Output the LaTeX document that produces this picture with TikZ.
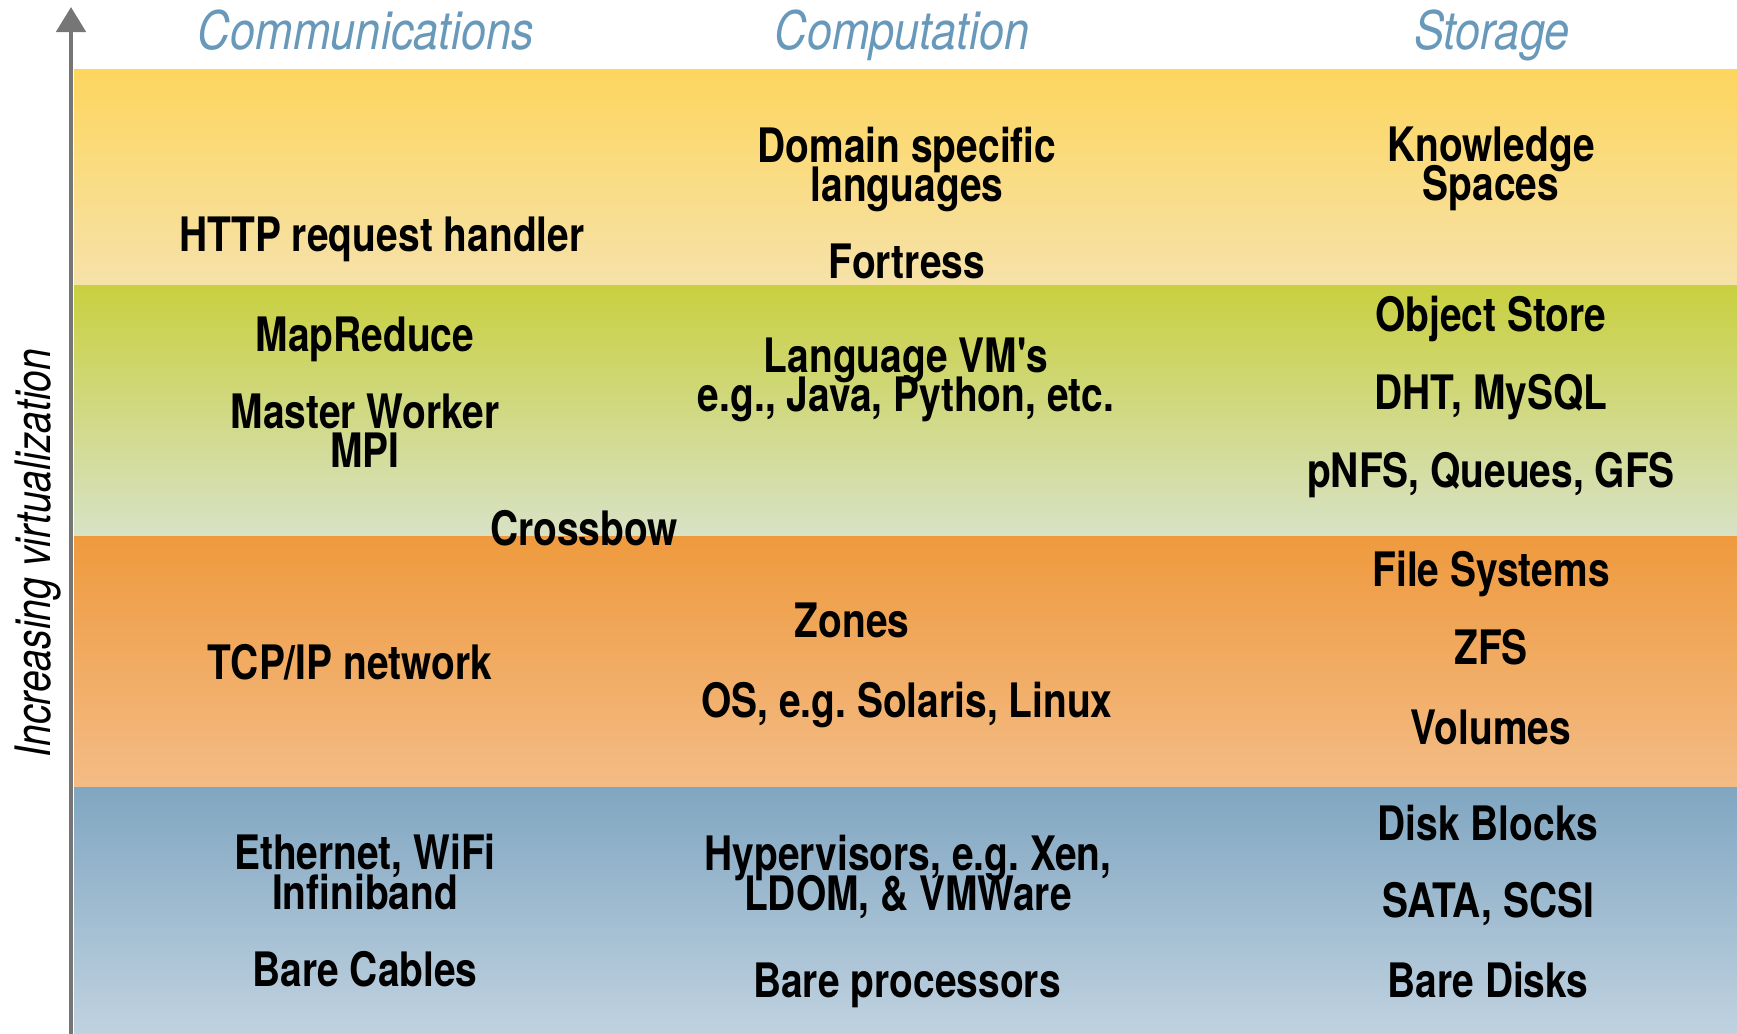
\documentclass[tikz,border=0pt]{standalone}
\usepackage{fontspec}
\usepackage{tikz}
\usetikzlibrary{arrows.meta}

\newfontfamily\bandfont[FakeStretch=0.82]{TeX Gyre Heros}
\newfontfamily\hdrfont[FakeStretch=0.85]{TeX Gyre Heros}
\newfontfamily\axisfont[FakeStretch=0.80]{TeX Gyre Heros}
\newcommand\itemfont{\bandfont\bfseries\fontsize{13.5}{11.2}\selectfont
  \lineskiplimit-20pt\relax\frenchspacing}

\definecolor{hdrblue}{RGB}{104,152,186}
\definecolor{axisgray}{RGB}{118,118,118}
\definecolor{yeltop}{RGB}{253,214,95}
\definecolor{yelbot}{RGB}{246,226,170}
\definecolor{grntop}{RGB}{201,208,64}
\definecolor{grnbot}{RGB}{216,226,198}
\definecolor{orgtop}{RGB}{239,154,62}
\definecolor{orgbot}{RGB}{243,188,134}
\definecolor{blutop}{RGB}{128,166,193}
\definecolor{blubot}{RGB}{192,210,224}

\begin{document}
\begin{tikzpicture}[x=0.01cm,y=-0.01cm,
  item/.style={text=black,anchor=base,align=center,inner sep=0pt,
    font=\itemfont},
  hdr/.style={text=hdrblue,anchor=base,inner sep=0pt,
    font=\hdrfont\itshape\fontsize{15.1}{18}\selectfont},
  axislabel/.style={text=black,anchor=base,rotate=90,inner sep=0pt,
    font=\axisfont\itshape\fontsize{13.9}{16}\selectfont},
  axisline/.style={draw=axisgray,line width=1.4pt,
    -{Triangle[width=0.29cm,length=0.25cm]}}]
\useasboundingbox (0,0) rectangle (1737,1034);

% layers:
\shade[top color=yeltop,bottom color=yelbot] (74,70) rectangle (1737,286);
\shade[top color=grntop,bottom color=grnbot] (74,286) rectangle (1737,537);
\shade[top color=orgtop,bottom color=orgbot] (74,537) rectangle (1737,787);
\shade[top color=blutop,bottom color=blubot] (74,787) rectangle (1737,1034);

% axis:
\coordinate (axbot) at (71,1034);
\coordinate (axtop) at (71,7);
\draw[axisline] (axbot) -- (axtop);
\path (50,553) node[axislabel] (axtext) {Increasing virtualization};

% column heads:
\path (366,50) node[hdr] (hcomm) {Communications};
\path (902,50) node[hdr] (hcomp) {Computation};
\path (1492,50) node[hdr] (hstor) {Storage};

% top layer (two-line texts sit on their last line):
\path (907,202) node[item] (dsl) {Domain specific\\languages};
\path (1491,201) node[item] (know) {Knowledge\\Spaces};
\path (382,252) node[item] (http) {HTTP request handler};
\path (907,279) node[item] (fort) {Fortress};

% second layer:
\path (365,352) node[item] (mapred) {MapReduce};
\path (365,468) node[item] (mwmpi) {Master Worker\\MPI};
\path (906,412) node[item] (langvm) {Language VM's\\e.g., Java, Python, etc.};
\path (1491,332) node[item] (objst) {Object Store};
\path (1491,410) node[item] (dht) {DHT, MySQL};
\path (1491,488) node[item] (pnfs) {pNFS, Queues, GFS};
\path (584,546) node[item] (xbow) {Crossbow};

% third layer:
\path (350,679) node[item] (tcpip) {TCP/IP network};
\path (852,637) node[item] (zones) {Zones};
\path (907,717) node[item] (os) {OS, e.g. Solaris, Linux};
\path (1491,587) node[item] (fsys) {File Systems};
\path (1491,664) node[item] (zfs) {ZFS};
\path (1491,744) node[item] (vols) {Volumes};

% bottom layer:
\path (365,909) node[item] (eth) {Ethernet, WiFi\\Infiniband};
\path (365,986) node[item] (cables) {Bare Cables};
\path (908,910) node[item] (hyp) {Hypervisors, e.g. Xen,\\LDOM, \& VMWare};
\path (907,997) node[item] (procs) {Bare processors};
\path (1488,840) node[item] (dblk) {Disk Blocks};
\path (1488,917) node[item] (sata) {SATA, SCSI};
\path (1488,997) node[item] (disks) {Bare Disks};

\end{tikzpicture}
\end{document}
